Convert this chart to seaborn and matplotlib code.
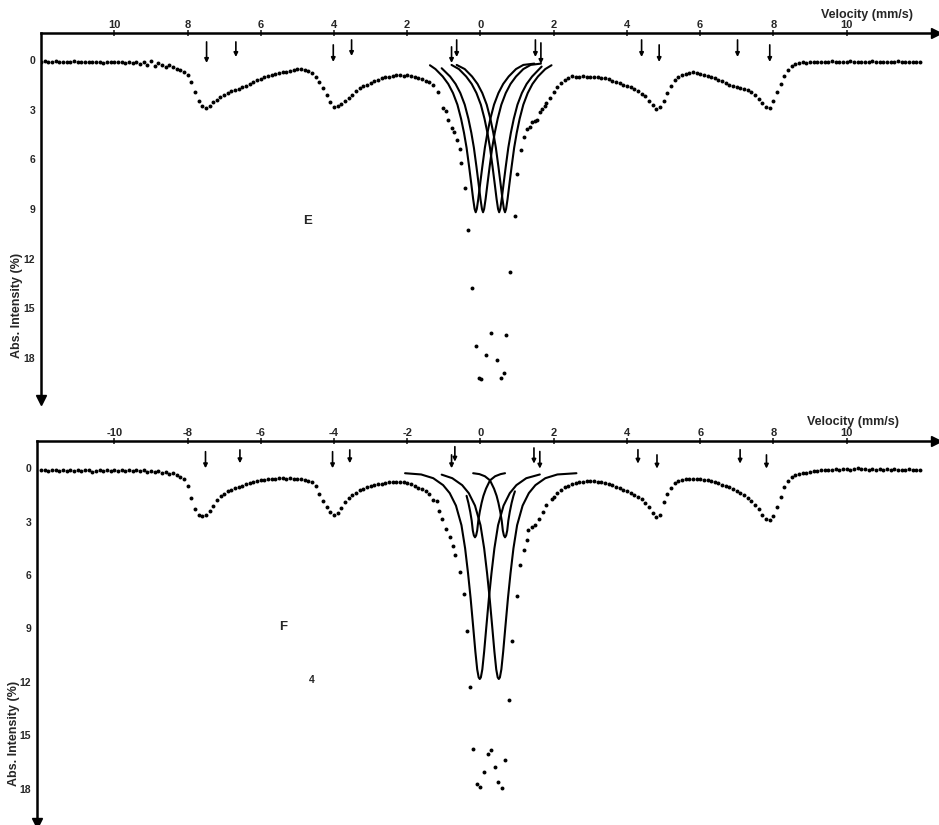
"""Mossbauer spectra E and F with the fitted central doublet components."""

from __future__ import annotations

import matplotlib

matplotlib.use("Agg")

import matplotlib.pyplot as plt
import pandas as pd
import seaborn as sns


# velocity channels of the outer parts, shared by both spectra (mm/s)
VEL_LEFT = [
    -12.0, -11.9, -11.8, -11.7, -11.6, -11.5, -11.4, -11.3, -11.2, -11.1,
    -11.0, -10.9, -10.8, -10.7, -10.6, -10.5, -10.4, -10.3, -10.2, -10.1,
    -10.0, -9.9, -9.8, -9.7, -9.6, -9.5, -9.4, -9.3, -9.2, -9.1,
    -9.0, -8.9, -8.8, -8.7, -8.6, -8.5, -8.4, -8.3, -8.2, -8.1,
    -8.0, -7.9, -7.8, -7.7, -7.6, -7.5, -7.4, -7.3, -7.2, -7.1,
    -7.0, -6.9, -6.8, -6.7, -6.6, -6.5, -6.4, -6.3, -6.2, -6.1,
    -6.0, -5.9, -5.8, -5.7, -5.6, -5.5, -5.4, -5.3, -5.2, -5.1,
    -5.0, -4.9, -4.8, -4.7, -4.6, -4.5, -4.4, -4.3, -4.2, -4.1,
    -4.0, -3.9, -3.8, -3.7, -3.6, -3.5, -3.4, -3.3, -3.2, -3.1,
    -3.0, -2.9, -2.8, -2.7, -2.6, -2.5, -2.4, -2.3, -2.2, -2.1,
    -2.0, -1.9, -1.8, -1.7, -1.6, -1.5,
]
VEL_RIGHT = [
    2.0, 2.1, 2.2, 2.3, 2.4, 2.5, 2.6, 2.7, 2.8, 2.9,
    3.0, 3.1, 3.2, 3.3, 3.4, 3.5, 3.6, 3.7, 3.8, 3.9,
    4.0, 4.1, 4.2, 4.3, 4.4, 4.5, 4.6, 4.7, 4.8, 4.9,
    5.0, 5.1, 5.2, 5.3, 5.4, 5.5, 5.6, 5.7, 5.8, 5.9,
    6.0, 6.1, 6.2, 6.3, 6.4, 6.5, 6.6, 6.7, 6.8, 6.9,
    7.0, 7.1, 7.2, 7.3, 7.4, 7.5, 7.6, 7.7, 7.8, 7.9,
    8.0, 8.1, 8.2, 8.3, 8.4, 8.5, 8.6, 8.7, 8.8, 8.9,
    9.0, 9.1, 9.2, 9.3, 9.4, 9.5, 9.6, 9.7, 9.8, 9.9,
    10.0, 10.1, 10.2, 10.3, 10.4, 10.5, 10.6, 10.7, 10.8, 10.9,
    11.0, 11.1, 11.2, 11.3, 11.4, 11.5, 11.6, 11.7, 11.8, 11.9,
    12.0,
]

# spectrum E, absorption (%)
E_LEFT = [
    0.10, 0.05, 0.10, 0.12, 0.08, 0.10, 0.15, 0.10, 0.12, 0.08,
    0.12, 0.10, 0.15, 0.12, 0.10, 0.14, 0.10, 0.16, 0.12, 0.10,
    0.15, 0.12, 0.10, 0.16, 0.12, 0.20, 0.10, 0.25, 0.15, 0.30,
    0.05, 0.35, 0.20, 0.30, 0.45, 0.30, 0.40, 0.55, 0.60, 0.72,
    0.88, 1.35, 1.95, 2.45, 2.80, 2.92, 2.80, 2.55, 2.42, 2.25,
    2.10, 2.00, 1.90, 1.82, 1.75, 1.65, 1.55, 1.45, 1.32, 1.20,
    1.15, 1.05, 0.98, 0.92, 0.83, 0.78, 0.72, 0.70, 0.64, 0.60,
    0.56, 0.55, 0.60, 0.68, 0.80, 1.05, 1.35, 1.70, 2.10, 2.55,
    2.85, 2.80, 2.65, 2.50, 2.30, 2.10, 1.85, 1.72, 1.60, 1.50,
    1.40, 1.30, 1.20, 1.12, 1.05, 1.00, 0.95, 0.93, 0.90, 0.95,
    0.92, 0.98, 1.02, 1.08, 1.15, 1.25,
]
E_RIGHT = [
    1.95, 1.65, 1.42, 1.20, 1.10, 0.98, 1.00, 1.05, 0.98, 1.02,
    1.00, 1.05, 1.02, 1.08, 1.10, 1.18, 1.25, 1.35, 1.42, 1.50,
    1.55, 1.65, 1.78, 1.90, 2.05, 2.20, 2.45, 2.70, 2.95, 2.85,
    2.50, 2.00, 1.60, 1.20, 1.00, 0.90, 0.82, 0.78, 0.75, 0.80,
    0.85, 0.88, 0.95, 1.02, 1.10, 1.20, 1.30, 1.42, 1.50, 1.58,
    1.62, 1.68, 1.75, 1.82, 1.92, 2.10, 2.35, 2.60, 2.85, 2.90,
    2.50, 1.95, 1.45, 0.95, 0.60, 0.35, 0.25, 0.20, 0.15, 0.18,
    0.12, 0.15, 0.10, 0.14, 0.10, 0.12, 0.08, 0.12, 0.10, 0.14,
    0.10, 0.08, 0.12, 0.10, 0.14, 0.10, 0.12, 0.08, 0.10, 0.12,
    0.10, 0.14, 0.10, 0.12, 0.08, 0.12, 0.10, 0.14, 0.10, 0.12,
    0.10,
]
E_CENTER_V = [
    -1.4, -1.29, -1.16, -1.02, -0.93, -0.88, -0.79, -0.72, -0.65, -0.56,
    -0.52, -0.43, -0.34, -0.22, -0.13, -0.05, 0.02, 0.15, 0.28, 0.44,
    0.56, 0.64, 0.71, 0.80, 0.94, 1.01, 1.10, 1.19, 1.28, 1.35,
    1.40, 1.49, 1.53, 1.62, 1.67, 1.76, 1.80, 1.90,
]
E_CENTER_I = [
    1.35, 1.5, 1.95, 2.9, 3.1, 3.6, 4.1, 4.35, 4.85, 5.4,
    6.2, 7.75, 10.3, 13.8, 17.3, 19.2, 19.25, 17.8, 16.5, 18.1,
    19.2, 18.9, 16.6, 12.8, 9.4, 6.9, 5.45, 4.65, 4.15, 4.05,
    3.75, 3.7, 3.65, 3.15, 2.95, 2.8, 2.6, 2.3,
]

# spectrum F, absorption (%)
F_LEFT = [
    0.12, 0.08, 0.15, 0.10, 0.12, 0.18, 0.10, 0.14, 0.08, 0.15,
    0.12, 0.16, 0.10, 0.12, 0.20, 0.15, 0.10, 0.14, 0.12, 0.18,
    0.10, 0.14, 0.12, 0.16, 0.10, 0.15, 0.12, 0.18, 0.10, 0.22,
    0.15, 0.20, 0.18, 0.25, 0.20, 0.30, 0.28, 0.38, 0.48, 0.62,
    1.00, 1.70, 2.30, 2.62, 2.68, 2.62, 2.42, 2.10, 1.80, 1.58,
    1.45, 1.30, 1.20, 1.12, 1.05, 0.98, 0.90, 0.82, 0.75, 0.72,
    0.68, 0.65, 0.62, 0.60, 0.58, 0.57, 0.56, 0.58, 0.56, 0.60,
    0.60, 0.62, 0.66, 0.72, 0.80, 1.00, 1.45, 1.85, 2.16, 2.45,
    2.62, 2.50, 2.25, 1.90, 1.65, 1.50, 1.38, 1.22, 1.15, 1.05,
    0.99, 0.95, 0.90, 0.86, 0.83, 0.80, 0.78, 0.75, 0.76, 0.80,
    0.84, 0.90, 1.00, 1.10, 1.15, 1.28,
]
F_RIGHT = [
    1.60, 1.38, 1.20, 1.08, 0.97, 0.90, 0.82, 0.78, 0.75, 0.72,
    0.70, 0.72, 0.75, 0.78, 0.82, 0.86, 0.95, 1.05, 1.12, 1.20,
    1.30, 1.40, 1.50, 1.60, 1.75, 1.95, 2.20, 2.50, 2.72, 2.60,
    1.90, 1.45, 1.10, 0.82, 0.70, 0.64, 0.60, 0.58, 0.60, 0.58,
    0.62, 0.65, 0.68, 0.72, 0.78, 0.85, 0.92, 1.00, 1.08, 1.18,
    1.28, 1.38, 1.50, 1.65, 1.85, 2.05, 2.30, 2.60, 2.85, 2.92,
    2.70, 2.15, 1.60, 1.05, 0.70, 0.50, 0.40, 0.32, 0.28, 0.25,
    0.22, 0.18, 0.15, 0.12, 0.10, 0.12, 0.08, 0.05, 0.10, 0.06,
    0.02, 0.08, 0.05, 0.00, 0.06, 0.04, 0.08, 0.05, 0.10, 0.06,
    0.08, 0.04, 0.08, 0.06, 0.10, 0.08, 0.10, 0.06, 0.10, 0.08,
    0.10,
]
F_CENTER_V = [
    -1.4, -1.29, -1.2, -1.13, -1.05, -0.93, -0.84, -0.76, -0.7, -0.56,
    -0.45, -0.36, -0.28, -0.2, -0.09, 0.0, 0.1, 0.2, 0.28, 0.39,
    0.48, 0.59, 0.67, 0.78, 0.86, 0.99, 1.08, 1.19, 1.26, 1.3,
    1.4, 1.49, 1.6, 1.71, 1.8, 1.94,
]
F_CENTER_I = [
    1.45, 1.78, 1.85, 2.38, 2.87, 3.43, 3.84, 4.37, 4.87, 5.81,
    7.06, 9.12, 12.3, 15.75, 17.75, 17.92, 17.08, 16.04, 15.83, 16.78,
    17.64, 17.94, 16.39, 13.02, 9.69, 7.16, 5.43, 4.59, 4.03, 3.47,
    3.31, 3.19, 2.87, 2.44, 2.06, 1.74,
]

# fitted components of spectrum E
E_FIT1_V = [-1.38, -1.23, -1.03, -0.88, -0.75, -0.63, -0.53, -0.45, -0.38, -0.31,
            -0.25, -0.2, -0.16, -0.13, -0.1, -0.06, -0.01, 0.05, 0.12, 0.19,
            0.27, 0.37, 0.49, 0.62, 0.77, 0.97, 1.17, 1.47]
E_FIT1_I = [0.32, 0.55, 1.0, 1.45, 2.0, 2.7, 3.55, 4.4, 5.3, 6.45,
            7.5, 8.4, 9.0, 9.2, 9.0, 8.4, 7.5, 6.45, 5.3, 4.4,
            3.55, 2.7, 2.0, 1.45, 1.0, 0.55, 0.3, 0.22]
E_FIT2_V = [-1.06, -0.83, -0.68, -0.55, -0.43, -0.33, -0.25, -0.18, -0.11, -0.05,
            0.0, 0.04, 0.07, 0.1, 0.14, 0.19, 0.25, 0.32, 0.39, 0.47,
            0.57, 0.69, 0.82, 0.97, 1.17, 1.37, 1.65]
E_FIT2_I = [0.5, 1.0, 1.45, 2.0, 2.7, 3.55, 4.4, 5.3, 6.45, 7.5,
            8.4, 9.0, 9.2, 9.0, 8.4, 7.5, 6.45, 5.3, 4.4, 3.55,
            2.7, 2.0, 1.45, 1.0, 0.55, 0.3, 0.22]
E_FIT3_V = [-0.79, -0.59, -0.39, -0.24, -0.11, 0.01, 0.11, 0.19, 0.26, 0.33,
            0.39, 0.44, 0.48, 0.51, 0.54, 0.58, 0.63, 0.69, 0.76, 0.83,
            0.91, 1.01, 1.13, 1.26, 1.41, 1.67]
E_FIT3_I = [0.3, 0.55, 1.0, 1.45, 2.0, 2.7, 3.55, 4.4, 5.3, 6.45,
            7.5, 8.4, 9.0, 9.2, 9.0, 8.4, 7.5, 6.45, 5.3, 4.4,
            3.55, 2.7, 2.0, 1.45, 1.0, 0.4]
E_FIT4_V = [-0.65, -0.43, -0.23, -0.08, 0.05, 0.17, 0.27, 0.35, 0.42, 0.49,
            0.55, 0.6, 0.64, 0.67, 0.7, 0.74, 0.79, 0.85, 0.92, 0.99,
            1.07, 1.17, 1.29, 1.42, 1.57, 1.77, 1.94]
E_FIT4_I = [0.3, 0.55, 1.0, 1.45, 2.0, 2.7, 3.55, 4.4, 5.3, 6.45,
            7.5, 8.4, 9.0, 9.2, 9.0, 8.4, 7.5, 6.45, 5.3, 4.4,
            3.55, 2.7, 2.0, 1.45, 1.0, 0.55, 0.32]

# fitted components of spectrum F
F_FIT1_V = [-2.06, -1.62, -1.29, -1.02, -0.84, -0.67, -0.52, -0.42, -0.34, -0.27,
            -0.2, -0.14, -0.09, -0.05, -0.02, 0.01, 0.05, 0.1, 0.16, 0.23,
            0.3, 0.38, 0.48, 0.63, 0.8, 0.98, 1.25, 1.62]
F_FIT1_I = [0.28, 0.35, 0.56, 0.95, 1.4, 2.1, 3.2, 4.5, 5.9, 7.3,
            8.9, 10.3, 11.3, 11.75, 11.84, 11.75, 11.3, 10.3, 8.9, 7.3,
            5.9, 4.5, 3.2, 2.1, 1.4, 0.95, 0.56, 0.35]
F_FIT2_V = [-1.06, -0.77, -0.5, -0.32, -0.15, 0.0, 0.1, 0.18, 0.25, 0.32,
            0.38, 0.43, 0.47, 0.5, 0.53, 0.57, 0.62, 0.68, 0.75, 0.82,
            0.9, 1.0, 1.15, 1.32, 1.5, 1.77, 2.1, 2.62]
F_FIT2_I = [0.36, 0.56, 0.95, 1.4, 2.1, 3.2, 4.5, 5.9, 7.3, 8.9,
            10.3, 11.3, 11.75, 11.84, 11.75, 11.3, 10.3, 8.9, 7.3, 5.9,
            4.5, 3.2, 2.1, 1.4, 0.95, 0.56, 0.35, 0.28]
F_FIT3_V = [-0.38, -0.33, -0.28, -0.24, -0.21, -0.18, -0.15, -0.12, -0.09, -0.06,
            -0.02, 0.03, 0.08, 0.15, 0.26, 0.4, 0.55, 0.67]
F_FIT3_I = [1.55, 1.95, 2.45, 2.95, 3.5, 3.78, 3.88, 3.78, 3.5, 2.95,
            2.45, 1.95, 1.55, 1.15, 0.68, 0.45, 0.33, 0.28]
F_FIT4_V = [-0.2, -0.03, 0.12, 0.26, 0.37, 0.44, 0.49, 0.54, 0.58, 0.61,
            0.64, 0.67, 0.7, 0.73, 0.76, 0.8, 0.85, 0.9, 0.94]
F_FIT4_I = [0.28, 0.33, 0.45, 0.68, 1.15, 1.55, 1.95, 2.45, 2.95, 3.5,
            3.78, 3.88, 3.78, 3.5, 2.95, 2.45, 1.95, 1.55, 1.3]

# line position markers above each spectrum
E_ARROW_V = [-7.48, -6.68, -4.02, -3.52, -0.79, -0.65, 1.50, 1.65, 4.40, 4.88, 7.02, 7.90]
E_ARROW_TAIL = [-1.09, -1.09, -0.91, -1.21, -0.79, -1.21, -1.21, -1.03, -1.21, -0.91, -1.21, -0.91]
E_ARROW_TIP = [0.18, -0.18, 0.12, -0.24, 0.18, -0.18, -0.18, 0.24, -0.18, 0.12, -0.18, 0.12]
F_ARROW_V = [-7.51, -6.57, -4.04, -3.57, -0.79, -0.70, 1.46, 1.62, 4.30, 4.82, 7.09, 7.81]
F_ARROW_TAIL = [-0.93, -1.03, -0.93, -1.03, -0.75, -1.21, -1.14, -0.94, -1.04, -0.75, -1.04, -0.75]
F_ARROW_TIP = [0.0, -0.28, 0.0, -0.28, 0.0, -0.37, -0.26, 0.02, -0.26, 0.02, -0.26, 0.02]

X_TICKS = [-10, -8, -6, -4, -2, 0, 2, 4, 6, 8, 10]
E_TICK_LABELS = ["10", "8", "6", "4", "2", "0", "2", "4", "6", "8", "10"]
F_TICK_LABELS = ["-10", "-8", "-6", "-4", "-2", "0", "2", "4", "6", "8", "10"]
Y_TICKS = [0, 3, 6, 9, 12, 15, 18]
Y_TICK_LABELS = ["0", "3", "6", "9", "12", "15", "18"]

FIG_W, FIG_H = 939, 825


def px(x: float, y: float) -> tuple[float, float]:
    return x / FIG_W, 1 - y / FIG_H


def draw_panel(ax, spectrum, fits, arrows, tick_labels, xlim, ylim):
    sns.scatterplot(data=spectrum, x="velocity", y="intensity", ax=ax,
                    color="black", s=8, linewidth=0, legend=False)
    for fit_v, fit_i in fits:
        sns.lineplot(x=fit_v, y=fit_i, ax=ax, color="black", linewidth=1.5,
                     sort=False, estimator=None)
    for v, tail, tip in zip(*arrows):
        ax.annotate("", xy=(v, tip), xytext=(v, tail), annotation_clip=False,
                    arrowprops=dict(arrowstyle="-|>", color="black", lw=1.2,
                                    mutation_scale=6, shrinkA=0, shrinkB=0))

    ax.set_xlim(*xlim)
    ax.set_ylim(*ylim)
    ax.set_xlabel("")
    ax.set_ylabel("")
    ax.xaxis.tick_top()
    ax.set_xticks(X_TICKS)
    ax.set_xticklabels(tick_labels, fontsize=8, fontweight="bold")
    ax.set_yticks(Y_TICKS)
    ax.set_yticklabels(Y_TICK_LABELS, fontsize=7.5, fontweight="bold")
    ax.tick_params(axis="x", direction="inout", length=5, width=1.2, pad=0)
    ax.tick_params(axis="y", direction="inout", length=4, width=1.2, pad=2)
    for side in ("right", "bottom"):
        ax.spines[side].set_visible(False)
    for side in ("top", "left"):
        ax.spines[side].set_linewidth(1.8)
        ax.spines[side].set_color("black")
    # arrow heads at the ends of both axes
    ax.plot(1, 1, marker=">", ms=7, color="black", transform=ax.transAxes, clip_on=False)
    ax.plot(0, 0, marker="v", ms=7, color="black", transform=ax.transAxes, clip_on=False)


def main() -> None:
    sns.set_theme(style="white")
    plt.rcParams["font.family"] = ["Liberation Sans", "DejaVu Sans"]

    fig = plt.figure(figsize=(FIG_W / 100, FIG_H / 100), dpi=100)
    ax_e = fig.add_axes([40.7 / FIG_W, 1 - 400 / FIG_H, 895.3 / FIG_W, 366.7 / FIG_H])
    ax_f = fig.add_axes([36.7 / FIG_W, 1 - 823 / FIG_H, 899.3 / FIG_W, 382 / FIG_H])

    spec_e = pd.DataFrame({"velocity": VEL_LEFT + E_CENTER_V + VEL_RIGHT,
                           "intensity": E_LEFT + E_CENTER_I + E_RIGHT})
    spec_f = pd.DataFrame({"velocity": VEL_LEFT + F_CENTER_V + VEL_RIGHT,
                           "intensity": F_LEFT + F_CENTER_I + F_RIGHT})

    fits_e = [(E_FIT1_V, E_FIT1_I), (E_FIT2_V, E_FIT2_I),
              (E_FIT3_V, E_FIT3_I), (E_FIT4_V, E_FIT4_I)]
    fits_f = [(F_FIT1_V, F_FIT1_I), (F_FIT2_V, F_FIT2_I),
              (F_FIT3_V, F_FIT3_I), (F_FIT4_V, F_FIT4_I)]

    draw_panel(ax_e, spec_e, fits_e, (E_ARROW_V, E_ARROW_TAIL, E_ARROW_TIP),
               E_TICK_LABELS, (-12.01, 12.44), (20.54, -1.61))
    draw_panel(ax_f, spec_f, fits_f, (F_ARROW_V, F_ARROW_TAIL, F_ARROW_TIP),
               F_TICK_LABELS, (-12.12, 12.44), (19.93, -1.53))

    ax_e.text(-4.71, 9.73, "E", fontsize=9.5, fontweight="bold", ha="center", va="center")
    ax_f.text(-5.4, 8.9, "F", fontsize=9.5, fontweight="bold", ha="center", va="center")
    ax_f.text(-4.6, 11.9, "4", fontsize=7.5, fontweight="bold", ha="center", va="center")

    label_kw = dict(fontsize=9, fontweight="bold", ha="center", va="center")
    fig.text(*px(867, 15), "Velocity (mm/s)", **label_kw)
    fig.text(*px(853, 422), "Velocity (mm/s)", **label_kw)
    fig.text(*px(17, 305), "Abs. Intensity (%)", rotation=90, **label_kw)
    fig.text(*px(14, 733), "Abs. Intensity (%)", rotation=90, **label_kw)

    fig.savefig("out.png", dpi=100)
    plt.close(fig)


if __name__ == "__main__":
    main()
